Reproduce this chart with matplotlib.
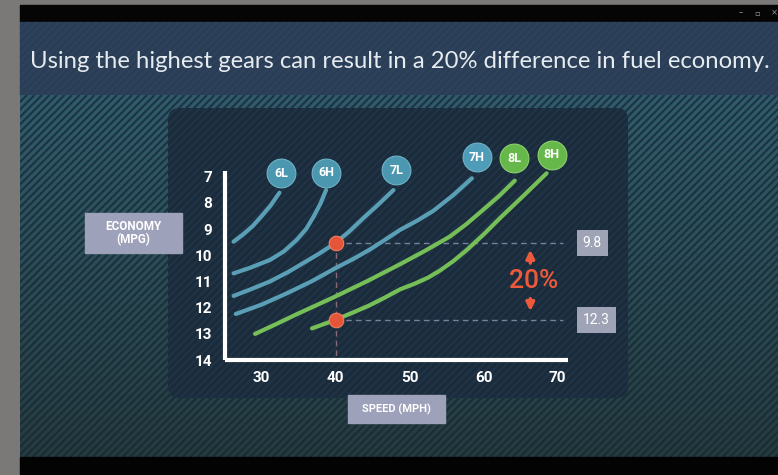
import numpy as np
import matplotlib.pyplot as plt
from matplotlib.patches import Rectangle, FancyBboxPatch
from matplotlib.collections import LineCollection

# ---- data ----
speed_ticks = [30, 40, 50, 60, 70]
mpg_ticks = [7, 8, 9, 10, 11, 12, 13, 14]

gears = ["6L", "6H", "7L", "7H", "8L", "8H"]
gear_speed = {
    "6L": [26.2, 27.5, 28.8, 30.0, 31.2, 32.4],
    "6H": [26.2, 28.5, 31.1, 33.0, 34.7, 36.0, 37.0, 37.9, 38.7],
    "7L": [26.2, 28.5, 31.1, 33.5, 35.6, 37.8, 39.9, 41.8, 43.7, 45.8, 47.8],
    "7H": [26.5, 30.0, 33.4, 36.7, 39.9, 42.3, 44.5, 46.6, 48.7, 51.0, 53.2, 55.9, 58.4],
    "8L": [29.1, 32.0, 34.5, 37.2, 39.9, 44.3, 48.7, 52.0, 55.4, 57.7, 59.9, 62.1, 64.2],
    "8H": [36.8, 39.9, 42.2, 44.5, 46.6, 48.7, 50.7, 52.5, 54.1, 55.9, 57.7, 60.0, 62.2, 65.4, 68.5],
}
gear_mpg = {
    "6L": [9.48, 9.2, 8.88, 8.5, 8.1, 7.61],
    "6H": [10.69, 10.47, 10.18, 9.85, 9.42, 9.0, 8.53, 8.05, 7.51],
    "7L": [11.55, 11.3, 11.0, 10.65, 10.3, 9.93, 9.54, 9.1, 8.59, 8.05, 7.51],
    "7H": [12.24, 11.88, 11.45, 11.0, 10.5, 10.15, 9.8, 9.42, 9.03, 8.68, 8.3, 7.7, 7.06],
    "8L": [13.0, 12.62, 12.28, 11.93, 11.58, 10.98, 10.34, 9.84, 9.29, 8.8, 8.27, 7.73, 7.15],
    "8H": [12.79, 12.47, 12.2, 11.92, 11.62, 11.3, 11.08, 10.85, 10.58, 10.22, 9.80, 9.2, 8.58, 7.72, 6.87],
}
gear_colors = {"6L": "#5a9fb6", "6H": "#5a9fb6", "7L": "#5a9fb6", "7H": "#5a9fb6",
               "8L": "#76bf58", "8H": "#76bf58"}
badge_colors = {"6L": "#4b97b0", "6H": "#4b97b0", "7L": "#4b97b0", "7H": "#4f9cb8",
                "8L": "#67b84a", "8H": "#67b84a"}
# where each gear's badge sits
badge_x = [32.6, 38.7, 48.2, 59.1, 64.1, 69.2]
badge_y = [6.87, 6.85, 6.75, 6.26, 6.30, 6.17]

compare_speed = 40
compare_mpg = [9.54, 12.47]      # 7L and 8H at 40 mph
compare_labels = ["9.8", "12.3"]
diff_label = "20%"

W, H = 778, 475
fig = plt.figure(figsize=(W / 100, H / 100), dpi=100)

# ---- background (pixel coords) ----
bg = fig.add_axes([0, 0, 1, 1])
bg.set_xlim(0, W)
bg.set_ylim(H, 0)
bg.axis("off")
bg.add_patch(Rectangle((0, 0), W, H, color="#7b7977", zorder=0))
bg.add_patch(Rectangle((20, 5), W - 20, 17, color="#050505", zorder=1))
bg.add_patch(Rectangle((20, 22), W - 20, 73, color="#2d415a", zorder=1))

grad = np.linspace(0, 1, 200)[:, None]
top = np.array([0.19, 0.36, 0.43])
bot = np.array([0.15, 0.23, 0.25])
img = top + (bot - top) * grad[..., None]
img = np.repeat(img, 2, axis=1)
bg.imshow(img, extent=(20, W, 457, 95), aspect="auto", zorder=1)
bg.set_xlim(0, W)
bg.set_ylim(H, 0)

# diagonal stripes
segs = [[(c, 457), (c + 362, 95)] for c in np.arange(-500, W + 500, 7.5)]
stripes = LineCollection(segs, colors="#142830", linewidths=1.5, alpha=0.75, zorder=2)
bg.add_collection(stripes)
stripes.set_clip_path(Rectangle((20, 95), W - 20, 362, transform=bg.transData))

segs2 = [[(c, 95), (c + 73, 22)] for c in np.arange(-100, W + 100, 7.5)]
st2 = LineCollection(segs2, colors="#253850", linewidths=1.2, alpha=0.5, zorder=2)
bg.add_collection(st2)
st2.set_clip_path(Rectangle((20, 22), W - 20, 73, transform=bg.transData))

bg.add_patch(Rectangle((20, 457), W - 20, 18, color="#030303", zorder=3))

panel = FancyBboxPatch((168 + 12, 108 + 12), 460 - 24, 290 - 24,
                       boxstyle="round,pad=12", fc="#1a2b3b", ec="none", zorder=3)
bg.add_patch(panel)
segs3 = [[(c, 398), (c + 290, 108)] for c in np.arange(-300, W + 300, 7.5)]
st3 = LineCollection(segs3, colors="#25394c", linewidths=1.4, alpha=0.7, zorder=4)
bg.add_collection(st3)
st3.set_clip_path(panel)

bg.text(30, 61, "Using the highest gears can result in a 20% difference in fuel economy.",
        fontsize=17.2, family="Lato", color="#e6ebf0",
        ha="left", va="center", zorder=5)
for x, s in [(741, "–"), (757, "▫"), (774, "×")]:
    bg.text(x, 13, s, fontsize=6, color="#9a9a9a", ha="center", va="center",
            family="DejaVu Sans", zorder=5)

# axis name boxes
bg.add_patch(Rectangle((85, 213), 97, 40, color="#9da1ba", zorder=5))
bg.text(133.5, 233, "ECONOMY\n(MPG)", fontsize=8.5, weight="bold", family="Roboto",
        color="white", ha="center", va="center", linespacing=1.0, zorder=6)
bg.add_patch(Rectangle((348, 395), 97, 28, color="#9da1ba", zorder=5))
bg.text(396.5, 409, "SPEED (MPH)", fontsize=8, weight="bold", family="Roboto",
        color="white", ha="center", va="center", zorder=6)

# ---- chart axes ----
x0, x1 = 22, 76
y_top, y_bot = 5.6, 14.4
px = lambda v: 261.7 + (v - 30) * 7.4
py = lambda v: 176.7 + (v - 7) * 26.2
left, right = px(x0), px(x1)
ytop_px, ybot_px = py(y_top), py(y_bot)
ax = fig.add_axes([left / W, (H - ybot_px) / H, (right - left) / W, (ybot_px - ytop_px) / H])
ax.set_xlim(x0, x1)
ax.set_ylim(y_bot, y_top)
ax.patch.set_alpha(0)
for s in ["top", "right"]:
    ax.spines[s].set_visible(False)
ax.spines["left"].set_position(("data", 25))
ax.spines["bottom"].set_position(("data", 14))
ax.spines["left"].set_bounds(14, 6.77)
ax.spines["bottom"].set_bounds(25, 71.4)
for s in ["left", "bottom"]:
    ax.spines[s].set_color("white")
    ax.spines[s].set_linewidth(3)
    ax.spines[s].set_capstyle("butt")
ax.set_xticks(speed_ticks)
ax.set_yticks(mpg_ticks)
ax.tick_params(length=0, colors="white", labelsize=11)
ax.tick_params(axis="x", pad=8)
ax.tick_params(axis="y", pad=9)
for lab in ax.get_xticklabels() + ax.get_yticklabels():
    lab.set_family("Roboto")
    lab.set_weight("bold")

for g in gears:
    ax.plot(gear_speed[g], gear_mpg[g], color=gear_colors[g], lw=3,
            solid_capstyle="round", solid_joinstyle="round", zorder=3)

for g, bx, by in zip(gears, badge_x, badge_y):
    ax.scatter([bx], [by], s=430, color=badge_colors[g], zorder=5, clip_on=False,
               edgecolors="#6fb3c9" if g[0] != "8" else "#8bd06e", linewidths=0.8)
    ax.text(bx, by, g, fontsize=9, weight="bold", family="Roboto", color="white",
            ha="center", va="center", zorder=6)

# comparison guides
ax.plot([compare_speed, compare_speed], [compare_mpg[0], 14], ls=(0, (4, 3)),
        color="#8a6a78", lw=1, zorder=2)
for m in compare_mpg:
    ax.plot([compare_speed, 70.7], [m, m], ls=(0, (4, 3)), color="#76829a", lw=1, zorder=2)
ax.scatter([compare_speed] * 2, compare_mpg, s=110, color="#e4553a", zorder=6,
           edgecolors="#f08060", linewidths=0.8)
for m, t in zip(compare_mpg, compare_labels):
    ax.text(73.4, m, t, fontsize=10, family="Roboto", color="white", ha="left", va="center",
            bbox=dict(boxstyle="square,pad=0.45", fc="#9ea3b6", ec="none"), clip_on=False)

ax.text(66.8, 10.97, diff_label, fontsize=19, family="Roboto", weight="medium",
        color="#ec5a3b", ha="center", va="center")
ax.annotate("", xy=(66.3, 9.68), xytext=(66.3, 10.4),
            arrowprops=dict(arrowstyle="-|>", color="#ec5a3b", lw=2.5, mutation_scale=12))
ax.annotate("", xy=(66.3, 12.24), xytext=(66.3, 11.55),
            arrowprops=dict(arrowstyle="-|>", color="#ec5a3b", lw=2.5, mutation_scale=12))

fig.savefig("out.png", dpi=100)
